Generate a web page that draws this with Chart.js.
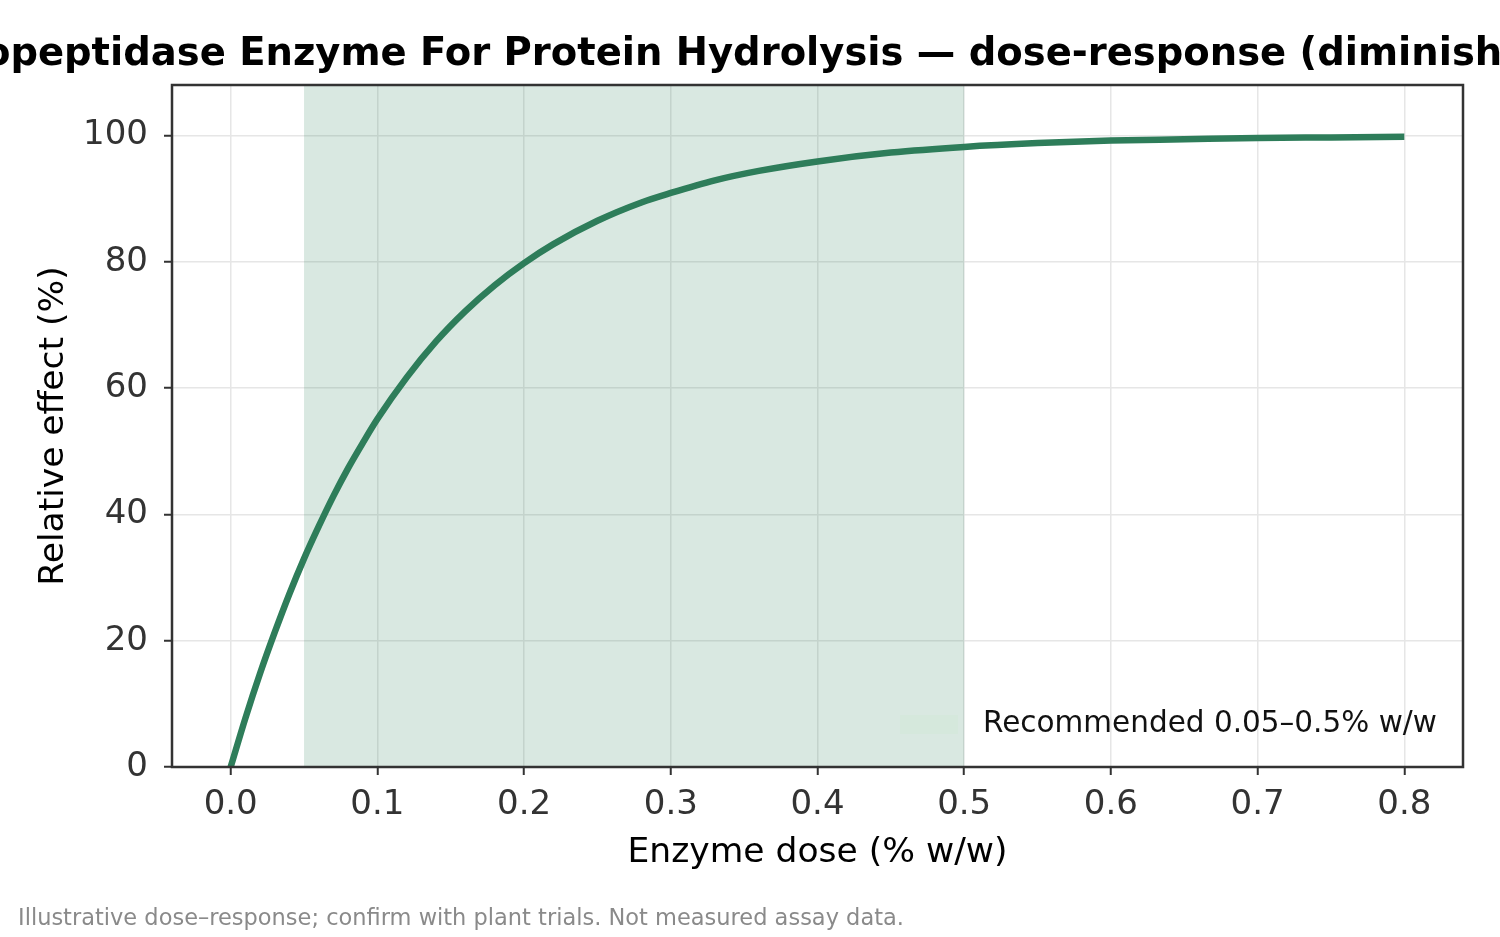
<!DOCTYPE html>
<html>
<head>
<meta charset="utf-8">
<script src="https://cdn.jsdelivr.net/npm/chart.js@4.4.1/dist/chart.umd.min.js"></script>
<style>
  html, body { margin: 0; padding: 0; background: #ffffff; }
  #c { display: block; }
</style>
</head>
<body>
<canvas id="c" width="1500" height="937"></canvas>
<script>
// ---- Data ----
const doses   = [0.00, 0.01, 0.02, 0.03, 0.04, 0.05, 0.06, 0.07, 0.08, 0.09, 0.10, 0.12, 0.14, 0.16, 0.18, 0.20, 0.22, 0.25, 0.28, 0.30, 0.33, 0.36, 0.40, 0.45, 0.50, 0.55, 0.60, 0.65, 0.70, 0.75, 0.80];
const effects = [0.0, 7.7, 14.8, 21.3, 27.4, 33.0, 38.1, 42.9, 47.3, 51.3, 55.1, 61.7, 67.4, 72.2, 76.3, 79.8, 82.8, 86.5, 89.4, 90.9, 92.9, 94.4, 95.9, 97.3, 98.2, 98.8, 99.2, 99.4, 99.6, 99.7, 99.8];
const xTicks  = [0.0, 0.1, 0.2, 0.3, 0.4, 0.5, 0.6, 0.7, 0.8];
const yTicks  = [0, 20, 40, 60, 80, 100];
const bandRange = [0.05, 0.5];
const xLimits = [-0.04, 0.84];
const yLimits = [0, 108];

const titleText  = 'Aminopeptidase Enzyme For Protein Hydrolysis \u2014 dose-response (diminishing returns)';
const xLabel     = 'Enzyme dose (% w/w)';
const yLabel     = 'Relative effect (%)';
const legendText = 'Recommended 0.05\u20130.5% w/w';
const footerText = 'Illustrative dose\u2013response; confirm with plant trials. Not measured assay data.';

// ---- Styles ----
const lineColor = '#2e7d5a';
const bandColor = 'rgba(46,125,90,0.18)';
const legendPatchColor = '#d5e8dc';
const FONT = "'DejaVu Sans', sans-serif";

const points = doses.map((d, i) => ({ x: d, y: effects[i] }));

const decor = {
  id: 'decor',
  beforeDatasetsDraw(chart) {
    const { ctx, chartArea: a, scales: { x } } = chart;
    const x0 = x.getPixelForValue(bandRange[0]);
    const x1 = x.getPixelForValue(bandRange[1]);
    ctx.save();
    ctx.fillStyle = bandColor;
    ctx.fillRect(x0, a.top, x1 - x0, a.bottom - a.top);
    ctx.restore();
  },
  afterDatasetsDraw(chart) {
    const { ctx, chartArea: a } = chart;
    ctx.save();
    ctx.strokeStyle = '#333333';
    ctx.lineWidth = 2.5;
    ctx.strokeRect(a.left, a.top, a.right - a.left, a.bottom - a.top);
    ctx.restore();
  },
  afterDraw(chart) {
    const { ctx, chartArea: a } = chart;
    ctx.save();
    // Title (centered over the axes, overflowing like the reference)
    ctx.fillStyle = '#000000';
    ctx.font = "bold 38.5px " + FONT;
    ctx.textAlign = 'center';
    ctx.textBaseline = 'alphabetic';
    ctx.fillText(titleText, (a.left + a.right) / 2, 65);
    // Legend
    ctx.fillStyle = legendPatchColor;
    ctx.fillRect(a.right - 563, a.bottom - 52, 58, 19);
    ctx.fillStyle = '#111111';
    ctx.font = "29.5px " + FONT;
    ctx.textAlign = 'left';
    ctx.textBaseline = 'middle';
    ctx.fillText(legendText, a.right - 480, a.bottom - 43);
    // Footer note
    ctx.fillStyle = '#8a8a8a';
    ctx.font = "22.5px " + FONT;
    ctx.textBaseline = 'alphabetic';
    ctx.fillText(footerText, 18, 925);
    ctx.restore();
  }
};

new Chart(document.getElementById('c'), {
  type: 'line',
  data: {
    datasets: [{
      label: 'Dose-response',
      data: points,
      borderColor: lineColor,
      borderWidth: 6.5,
      pointRadius: 0,
      fill: false,
      cubicInterpolationMode: 'monotone',
      borderCapStyle: 'butt'
    }]
  },
  options: {
    responsive: false,
    animation: false,
    devicePixelRatio: 1,
    layout: { padding: { left: 0, right: 37, top: 85, bottom: 0 } },
    plugins: {
      legend: { display: false },
      title: { display: false },
      tooltip: { enabled: false }
    },
    scales: {
      x: {
        type: 'linear',
        min: xLimits[0],
        max: xLimits[1],
        afterFit(s) { s.height = 170; },
        afterBuildTicks(s) { s.ticks = xTicks.map(v => ({ value: v })); },
        border: { display: false },
        grid: { color: '#e6e6e6', lineWidth: 1.5, drawTicks: true, tickLength: 8, tickColor: '#333333', tickWidth: 2 },
        ticks: {
          color: '#333333', font: { family: FONT, size: 34 }, padding: 10, maxRotation: 0,
          callback: v => Number(v).toFixed(1)
        },
        title: {
          display: true, text: xLabel, color: '#000000',
          font: { family: FONT, size: 34.5, lineHeight: 1.2 },
          padding: { top: 0, bottom: 63 }
        }
      },
      y: {
        type: 'linear',
        min: yLimits[0],
        max: yLimits[1],
        afterFit(s) { s.width = 172; },
        afterBuildTicks(s) { s.ticks = yTicks.map(v => ({ value: v })); },
        border: { display: false },
        grid: { color: '#e6e6e6', lineWidth: 1.5, drawTicks: true, tickLength: 8, tickColor: '#333333', tickWidth: 2 },
        ticks: {
          color: '#333333', font: { family: FONT, size: 34 }, padding: 16,
          callback: v => String(v)
        },
        title: {
          display: true, text: yLabel, color: '#000000',
          font: { family: FONT, size: 34.5, lineHeight: 1.2 },
          padding: { top: 33, bottom: 0 }
        }
      }
    }
  },
  plugins: [decor]
});
</script>
</body>
</html>
